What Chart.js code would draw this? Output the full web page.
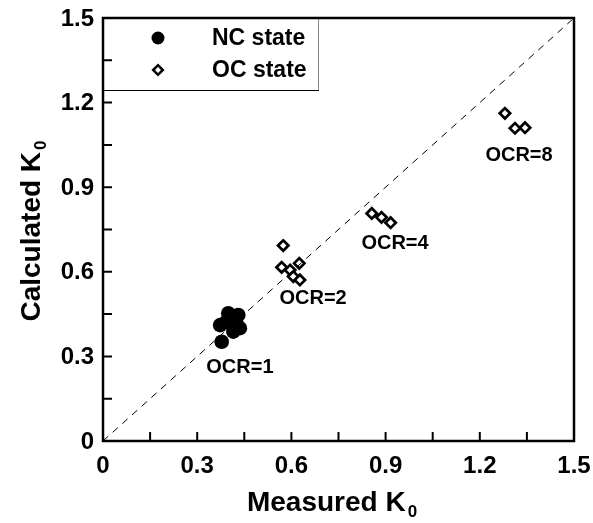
<!DOCTYPE html>
<html>
<head>
<meta charset="utf-8">
<script src="https://cdn.jsdelivr.net/npm/chart.js@4"></script>
<style>
  html, body { margin: 0; padding: 0; background: #fff; }
  #wrap { width: 593px; height: 523px; }
</style>
</head>
<body>
<div id="wrap"><canvas id="myChart" width="593" height="523"></canvas></div>
<script>
// measured vs calculated K0
const ncMeasured = [0.378, 0.373, 0.392, 0.399, 0.431, 0.424, 0.436, 0.415];
const ncCalculated = [0.352, 0.411, 0.422, 0.453, 0.447, 0.422, 0.400, 0.388];

const ocMeasured = [0.574, 0.569, 0.596, 0.625, 0.606, 0.627, 0.856, 0.887, 0.916, 1.280, 1.312, 1.344];
const ocCalculated = [0.693, 0.616, 0.606, 0.630, 0.583, 0.571, 0.807, 0.793, 0.774, 1.162, 1.109, 1.111];

const tickValues = [0, 0.3, 0.6, 0.9, 1.2, 1.5];
const tickLabels = ['0', '0.3', '0.6', '0.9', '1.2', '1.5'];

const ocrLabels = ['OCR=1', 'OCR=2', 'OCR=4', 'OCR=8'];
const ocrX = [0.436, 0.669, 0.930, 1.325];
const ocrY = [0.262, 0.505, 0.699, 1.014];

const toPts = (xs, ys) => xs.map((x, i) => ({ x: x, y: ys[i] }));

const FONT = '"Liberation Sans", Arial, sans-serif';

function subTitle(ctx, main, sub, size) {
  ctx.font = 'bold ' + size + 'px ' + FONT;
  const w1 = ctx.measureText(main).width;
  ctx.font = 'bold ' + Math.round(size * 0.62) + 'px ' + FONT;
  const w2 = ctx.measureText(sub).width;
  return { w1: w1, w2: w2, total: w1 + 2 + w2 };
}

function drawSubText(ctx, main, sub, size, cx, cy) {
  const m = subTitle(ctx, main, sub, size);
  let x = cx - m.total / 2;
  ctx.textAlign = 'left';
  ctx.textBaseline = 'middle';
  ctx.font = 'bold ' + size + 'px ' + FONT;
  ctx.fillText(main, x, cy);
  ctx.font = 'bold ' + Math.round(size * 0.62) + 'px ' + FONT;
  ctx.fillText(sub, x + m.w1 + 2, cy + size * 0.32);
}

const decor = {
  id: 'decor',
  afterDraw(chart) {
    const ctx = chart.ctx;
    const a = chart.chartArea;
    const xs = chart.scales.x, ys = chart.scales.y;
    ctx.save();
    ctx.fillStyle = '#000';
    ctx.strokeStyle = '#000';

    // OCR labels
    ctx.font = 'bold 20px ' + FONT;
    ctx.textAlign = 'center';
    ctx.textBaseline = 'middle';
    ocrLabels.forEach((t, i) => {
      ctx.fillText(t, xs.getPixelForValue(ocrX[i]), ys.getPixelForValue(ocrY[i]));
    });

    // legend box
    ctx.fillStyle = '#fff';
    ctx.fillRect(a.left, a.top, 215, 72);
    ctx.lineWidth = 1;
    ctx.strokeStyle = '#888';
    ctx.beginPath();
    ctx.moveTo(a.left + 215.5, a.top);
    ctx.lineTo(a.left + 215.5, a.top + 72);
    ctx.stroke();
    ctx.strokeStyle = '#000';
    ctx.beginPath();
    ctx.moveTo(a.left, a.top + 72.5);
    ctx.lineTo(a.left + 216, a.top + 72.5);
    ctx.stroke();
    ctx.fillStyle = '#000';
    ctx.beginPath();
    ctx.arc(a.left + 55, a.top + 20, 6.5, 0, Math.PI * 2);
    ctx.fill();
    ctx.lineWidth = 2.5;
    ctx.beginPath();
    const dx = a.left + 55, dy = a.top + 52, r = 4.8;
    ctx.moveTo(dx - r, dy); ctx.lineTo(dx, dy - r); ctx.lineTo(dx + r, dy); ctx.lineTo(dx, dy + r);
    ctx.closePath();
    ctx.stroke();
    ctx.font = 'bold 23px ' + FONT;
    ctx.textAlign = 'left';
    ctx.textBaseline = 'middle';
    ctx.fillText('NC state', a.left + 109, a.top + 21);
    ctx.fillText('OC state', a.left + 109, a.top + 53);

    // frame
    ctx.lineWidth = 2.5;
    ctx.strokeRect(a.left, a.top, a.right - a.left, a.bottom - a.top);

    // inward ticks every 0.15 on left and bottom
    ctx.lineWidth = 2;
    for (let v = 0.15; v < 1.5; v += 0.15) {
      const px = xs.getPixelForValue(v), py = ys.getPixelForValue(v);
      ctx.beginPath();
      ctx.moveTo(px, a.bottom); ctx.lineTo(px, a.bottom - 9);
      ctx.moveTo(a.left, py); ctx.lineTo(a.left + 9, py);
      ctx.stroke();
    }

    // tick labels
    ctx.font = 'bold 24px ' + FONT;
    ctx.textBaseline = 'middle';
    tickValues.forEach((v, i) => {
      ctx.textAlign = 'center';
      ctx.fillText(tickLabels[i], xs.getPixelForValue(v), a.bottom + 25);
      ctx.textAlign = 'right';
      ctx.fillText(tickLabels[i], a.left - 9, ys.getPixelForValue(v) + 1);
    });

    // axis titles
    drawSubText(ctx, 'Measured K', '0', 28, 332, 503);
    ctx.translate(32, 231);
    ctx.rotate(-Math.PI / 2);
    drawSubText(ctx, 'Calculated K', '0', 28, 0, 0);
    ctx.restore();
  }
};

new Chart(document.getElementById('myChart'), {
  type: 'scatter',
  data: {
    datasets: [
      {
        label: 'diagonal',
        data: [{ x: 0, y: 0 }, { x: 1.5, y: 1.5 }],
        showLine: true,
        borderColor: '#000',
        borderWidth: 1,
        borderDash: [7, 6],
        pointRadius: 0
      },
      {
        label: 'NC state',
        data: toPts(ncMeasured, ncCalculated),
        pointStyle: 'circle',
        pointRadius: 7.3,
        backgroundColor: '#000',
        borderColor: '#000',
        borderWidth: 0
      },
      {
        label: 'OC state',
        data: toPts(ocMeasured, ocCalculated),
        pointStyle: 'rectRot',
        pointRadius: 5.2,
        backgroundColor: '#fff',
        borderColor: '#000',
        borderWidth: 2.7
      }
    ]
  },
  options: {
    responsive: false,
    animation: false,
    layout: { padding: { left: 103, right: 19, top: 18, bottom: 82 } },
    plugins: { legend: { display: false }, tooltip: { enabled: false } },
    scales: {
      x: { type: 'linear', min: 0, max: 1.5, display: false },
      y: { type: 'linear', min: 0, max: 1.5, display: false }
    }
  },
  plugins: [decor]
});
</script>
</body>
</html>
